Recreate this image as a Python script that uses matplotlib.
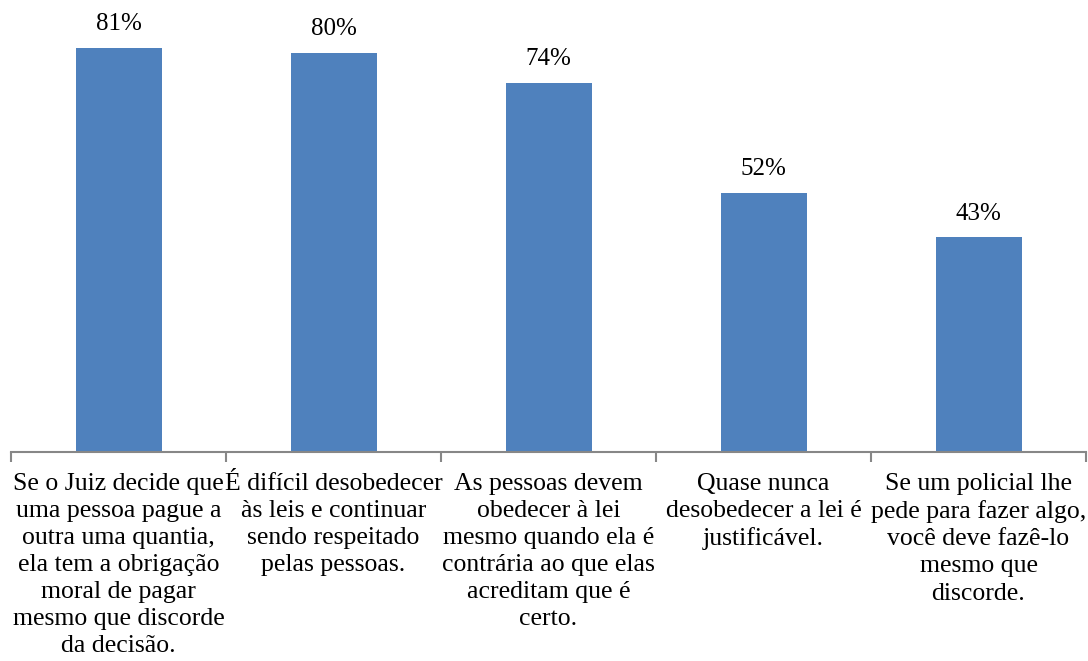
import matplotlib
matplotlib.use('Agg')
import matplotlib.pyplot as plt

categories = [
    'Se o Juiz decide que\numa pessoa pague a\noutra uma quantia,\nela tem a obrigação\nmoral de pagar\nmesmo que discorde\nda decisão.',
    'É difícil desobedecer\nàs leis e continuar\nsendo respeitado\npelas pessoas.',
    'As pessoas devem\nobedecer à lei\nmesmo quando ela é\ncontrária ao que elas\nacreditam que é\ncerto.',
    'Quase nunca\ndesobedecer a lei é\njustificável.',
    'Se um policial lhe\npede para fazer algo,\nvocê deve fazê-lo\nmesmo que\ndiscorde.',
]
values = [81, 80, 74, 52, 43]

plt.rcParams['font.family'] = ['Liberation Serif', 'DejaVu Serif']

fig = plt.figure(figsize=(10.88, 6.61), dpi=100)
ax = fig.add_axes([11 / 1088, 1 - 452 / 661, 1075 / 1088, 449 / 661])

x = list(range(len(values)))
bars = ax.bar(x, values, width=0.4, color='#4F81BD')
for b, v in zip(bars, values):
    ax.annotate(f'{v}%', (b.get_x() + b.get_width() / 2, v), xytext=(0, 9),
                textcoords='offset points', ha='center', va='bottom', fontsize=18)

ax.set_xlim(-0.5, len(values) - 0.5)
ax.set_ylim(0, 90)
for s in ['top', 'right', 'left']:
    ax.spines[s].set_visible(False)
ax.spines['bottom'].set_color('#878787')
ax.spines['bottom'].set_linewidth(1.5)
ax.set_yticks([])

ax.set_xticks([i - 0.5 for i in range(len(values) + 1)])
ax.set_xticklabels([])
ax.tick_params(axis='x', which='major', length=7, width=1.5, color='#878787', direction='out')
ax.set_xticks(x, minor=True)
ax.set_xticklabels(categories, minor=True, fontsize=18.5, linespacing=1.3)
ax.tick_params(axis='x', which='minor', length=0, pad=15)

fig.savefig('out.png', dpi=100)
